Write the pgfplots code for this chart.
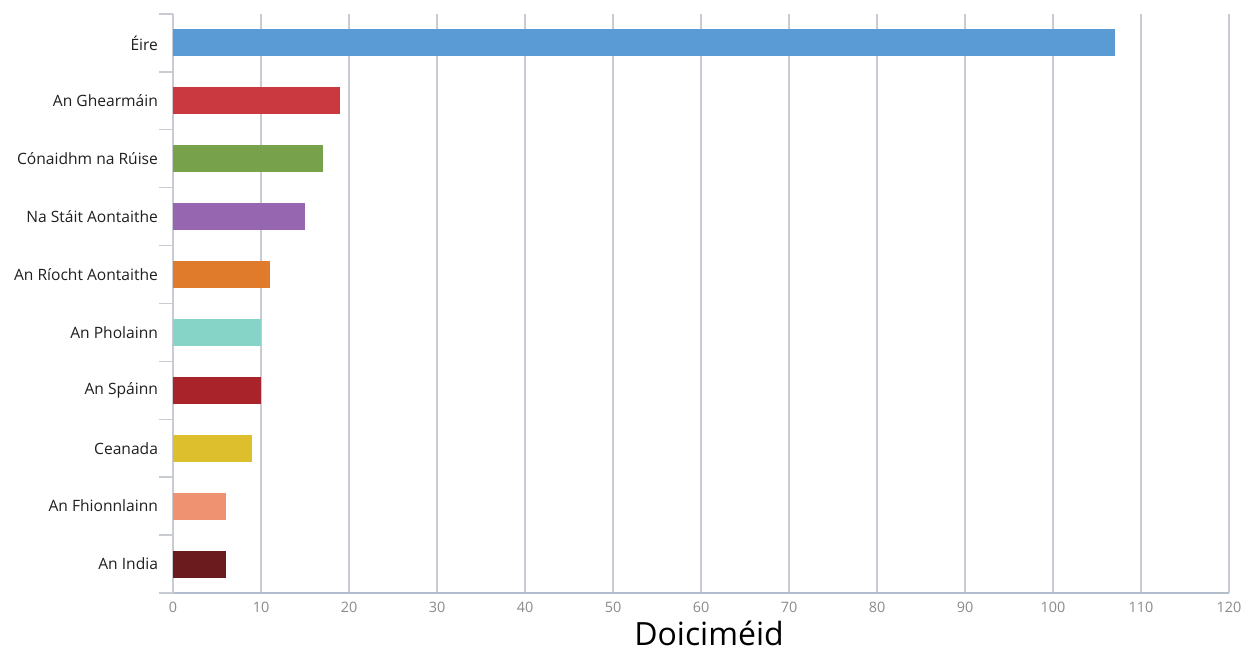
\documentclass[border=0pt]{standalone}
\usepackage{pgfplots}
\pgfplotsset{compat=1.18}
\usepackage{fontspec}
\setmainfont{Open Sans}
\definecolor{cEire}{HTML}{5B9BD5}
\definecolor{cGer}{HTML}{C9393F}
\definecolor{cRus}{HTML}{77A14A}
\definecolor{cUSA}{HTML}{9666B0}
\definecolor{cUK}{HTML}{E07B2B}
\definecolor{cPol}{HTML}{86D3C8}
\definecolor{cSpa}{HTML}{A8232A}
\definecolor{cCan}{HTML}{DDBE2C}
\definecolor{cFin}{HTML}{EE9272}
\definecolor{cInd}{HTML}{6B1A1D}
\definecolor{gridgray}{HTML}{C9CBD3}
\definecolor{axisblue}{HTML}{B3BDCE}
\definecolor{ticktext}{HTML}{8A8A8A}
\begin{document}
\begin{tikzpicture}
\useasboundingbox (0,0) rectangle (630pt,326pt);
\begin{axis}[
  at={(86.5pt,29.5pt)}, anchor=south west,
  scale only axis, width=528pt, height=289.5pt,
  xbar, bar width=13.5pt,
  xmin=0, xmax=120, ymin=-0.5, ymax=9.5,
  axis x line=bottom, axis y line=left,
  axis line style={-},
  x axis line style={draw=axisblue, line width=0.7pt},
  y axis line style={draw=gridgray, line width=0.7pt},
  xtick={0,10,...,120},
  xmajorgrids, grid style={draw=gridgray, line width=0.7pt},
  ytick={0,...,9},
  yticklabels={An India,An Fhionnlainn,Ceanada,An Spáinn,An Pholainn,An Ríocht Aontaithe,Na Stáit Aontaithe,Cónaidhm na Rúise,An Ghearmáin,Éire},
  minor ytick={-0.5,0.5,...,9.5},
  major tick length=0pt, minor tick length=7pt,
  tick align=outside,
  minor tick style={draw=gridgray, line width=0.7pt},
  /pgf/number format/assume math mode=true,
  yticklabel style={font=\fontsize{7.8}{9}\selectfont, color=black!88, xshift=-4pt},
  xticklabel style={font=\fontsize{7.2}{8}\selectfont, color=ticktext, yshift=-3.5pt, inner sep=1pt},
  xlabel={Doiciméid},
  xlabel style={font=\fontsize{16}{19}\selectfont, inner sep=0pt, at={(axis description cs:0.5,0)}, anchor=center, yshift=-20pt, xshift=4pt},
]
\addplot[fill=cEire, draw=none, bar shift=0pt] coordinates {(107,9)};
\addplot[fill=cGer, draw=none, bar shift=0pt] coordinates {(19,8)};
\addplot[fill=cRus, draw=none, bar shift=0pt] coordinates {(17,7)};
\addplot[fill=cUSA, draw=none, bar shift=0pt] coordinates {(15,6)};
\addplot[fill=cUK, draw=none, bar shift=0pt] coordinates {(11,5)};
\addplot[fill=cPol, draw=none, bar shift=0pt] coordinates {(10,4)};
\addplot[fill=cSpa, draw=none, bar shift=0pt] coordinates {(10,3)};
\addplot[fill=cCan, draw=none, bar shift=0pt] coordinates {(9,2)};
\addplot[fill=cFin, draw=none, bar shift=0pt] coordinates {(6,1)};
\addplot[fill=cInd, draw=none, bar shift=0pt] coordinates {(6,0)};
\end{axis}
\end{tikzpicture}
\end{document}
